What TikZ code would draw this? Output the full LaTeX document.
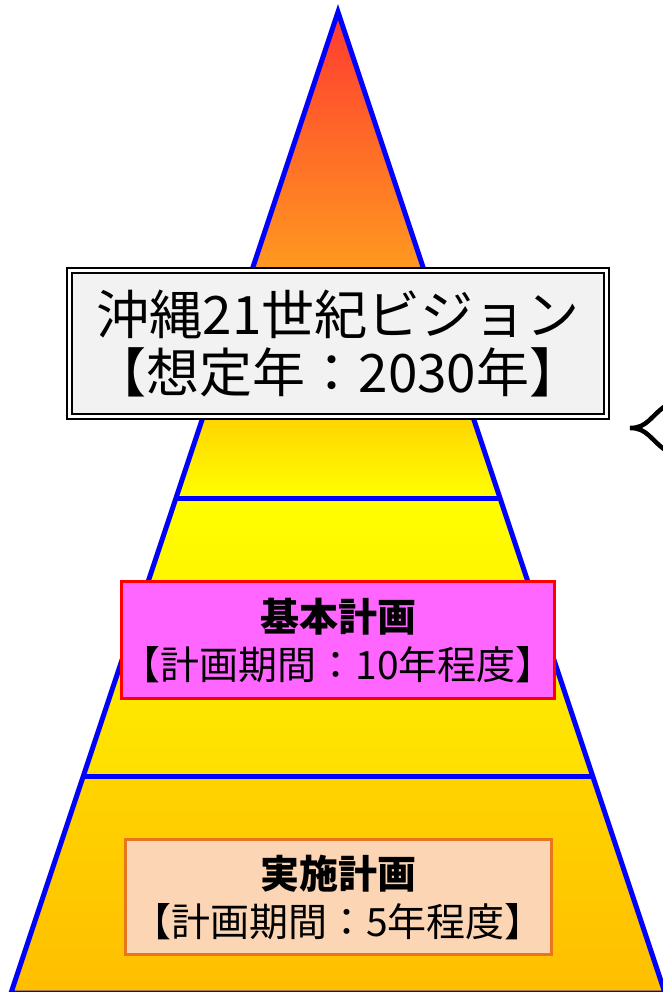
\documentclass[tikz,border=0pt]{standalone}
\usepackage{fontspec}
\newfontfamily\jp{Noto Sans CJK JP}
\definecolor{topred}{RGB}{255,58,48}
\definecolor{toporange}{RGB}{255,209,22}
\definecolor{gold1}{RGB}{255,214,0}
\definecolor{yel}{RGB}{255,255,0}
\definecolor{gold2}{RGB}{255,222,0}
\definecolor{gold3}{RGB}{255,212,0}
\definecolor{gold4}{RGB}{255,190,0}
\definecolor{boxgray}{RGB}{242,242,242}
\definecolor{magfill}{RGB}{255,102,255}
\definecolor{peach}{RGB}{252,213,181}
\definecolor{peachline}{RGB}{232,118,30}
\begin{document}
\begin{tikzpicture}[x=1pt,y=-1pt,
  edge/.style={draw=blue,line width=5pt},
  visionbox/.style={draw=black,double=white,double distance=2.5pt,line width=2.6pt,
    fill=boxgray,inner sep=0pt,align=center,font=\jp\fontsize{53}{58}\selectfont},
  planbox/.style={line width=3pt,inner sep=0pt,align=center,
    font=\jp\fontsize{39}{48}\selectfont}]
\useasboundingbox (0,0) rectangle (663,992);
\begin{scope}
\clip (0,0) rectangle (663,992);
% layers
\path[top color=topred,bottom color=toporange] (338,12) -- (474,420) -- (202,420) -- cycle;
\path[top color=gold1,bottom color=yel] (202,420) -- (474,420) -- (500,498) -- (176,498) -- cycle;
\path[top color=yel,bottom color=gold2] (176,498) -- (500,498) -- (592.7,776) -- (83.3,776) -- cycle;
\path[top color=gold3,bottom color=gold4] (83.3,776) -- (592.7,776) -- (665,993) -- (11,993) -- cycle;
% outline
\draw[edge] (338,12) -- (665,993) -- (11,993) -- cycle;
\draw[edge] (176,498) -- (500,498);
\draw[edge] (83.3,776) -- (592.7,776);
% brace tip
\draw[line width=4.5pt,line cap=round] (668,404) .. controls (650,416) and (648,428) .. (630,428)
  .. controls (648,428) and (650,440) .. (668,452);
\end{scope}
% boxes
\node[visionbox,minimum width=537pt,minimum height=146pt] (vision) at (338,343.5)
  {沖縄21世紀ビジョン\\【想定年：2030年】};
\node[planbox,draw=red,fill=magfill,minimum width=426pt,minimum height=117pt] (kihon) at (338,640)
  {{\bfseries 基本計画}\\【計画期間：10年程度】};
\node[planbox,draw=peachline,fill=peach,minimum width=426pt,minimum height=115pt] (jisshi) at (338,897)
  {{\bfseries 実施計画}\\【計画期間：5年程度】};
\end{tikzpicture}
\end{document}
